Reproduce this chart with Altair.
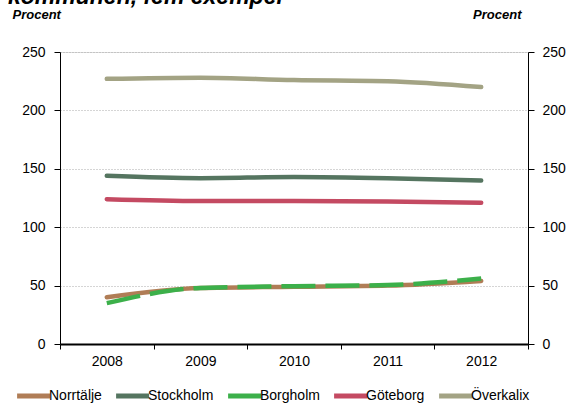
import altair as alt
import pandas as pd

years = ["2008", "2009", "2010", "2011", "2012"]
series_names = ["Norrtälje", "Stockholm", "Borgholm", "Göteborg", "Överkalix"]
norrtalje = [40, 48, 49, 50, 54]
stockholm = [144, 142, 143, 142, 140]
borgholm = [35, 48, 49.5, 50.5, 56]
goteborg = [124, 122.5, 122.5, 122, 121]
overkalix = [227, 228, 226, 225, 220]
colors = ["#B07D56", "#557560", "#3CB04A", "#C44A62", "#A3A384"]
title_text = "kommunen, fem exempel"
y_title = "Procent"

values = dict(zip(series_names, [norrtalje, stockholm, borgholm, goteborg, overkalix]))
rows = []
for s in series_names:
    for i, y in enumerate(years):
        rows.append({"year": y, "serie": s, "value": values[s][i]})
df = pd.DataFrame(rows)

FONT = "Liberation Sans"

x_enc = alt.X(
    "year:O",
    scale=alt.Scale(type="band", paddingInner=0, paddingOuter=0),
    bandPosition=0.5,
    axis=alt.Axis(
        title=None, labelAngle=0, tickBand="extent", domainColor="black",
        domainWidth=2, tickColor="black", tickSize=5, labelPadding=5,
        labelFontSize=14, labelColor="black", labelFont=FONT, grid=False,
    ),
)

yscale = alt.Scale(domain=[0, 250])

color_enc = alt.Color(
    "serie:N",
    scale=alt.Scale(domain=series_names, range=colors),
    sort=series_names,
    legend=alt.Legend(
        title=None, orient="none", direction="horizontal", columns=5,
        gridAlign="none",
        legendX=-52, legendY=325, symbolType="M-0.6,0H1.4", symbolSize=1089,
        symbolStrokeWidth=5, labelOffset=3, columnPadding=4,
        labelFontSize=14, labelFont=FONT, labelColor="black",
    ),
)

left_axis = alt.Axis(
    title=y_title, titleAngle=0, titleAlign="left", titleBaseline="alphabetic",
    titleX=-48, titleY=-34, titleFontSize=13, titleFontStyle="italic",
    titleFontWeight="bold", titleFont=FONT, titleColor="black",
    values=[0, 50, 100, 150, 200, 250], grid=True, gridColor="#AAAAAA",
    gridDash=[1, 2], gridWidth=1, domainColor="black", tickColor="black",
    tickSize=6, labelPadding=9, labelFontSize=14, labelFont=FONT,
    labelColor="black",
)
right_axis = alt.Axis(
    orient="right",
    title=y_title, titleAngle=0, titleAlign="right", titleBaseline="alphabetic",
    titleX=-7, titleY=-34, titleFontSize=13, titleFontStyle="italic",
    titleFontWeight="bold", titleFont=FONT, titleColor="black",
    values=[0, 50, 100, 150, 200, 250], grid=False, domainColor="black",
    tickColor="black", tickSize=6, labelPadding=8, labelFontSize=14,
    labelFont=FONT, labelColor="black",
)

others = df[df.serie != "Borgholm"]
borg = df[df.serie == "Borgholm"]

lines = alt.Chart(others).mark_line(strokeWidth=4.5, interpolate="monotone", strokeCap="round").encode(
    x=x_enc,
    y=alt.Y("value:Q", scale=yscale, axis=left_axis),
    color=color_enc,
    detail="serie:N",
)

borg_line = alt.Chart(borg).mark_line(
    strokeWidth=4.5, interpolate="monotone", strokeDash=[34, 10], strokeCap="butt"
).encode(
    x=x_enc,
    y=alt.Y("value:Q", scale=yscale, axis=right_axis),
    color=color_enc,
)

title_layer = alt.Chart(pd.DataFrame({"t": [title_text]})).mark_text(
    align="left", baseline="alphabetic", fontSize=23, fontStyle="italic",
    fontWeight="bold", font=FONT, color="black"
).encode(
    text="t:N", x=alt.value(-52), y=alt.value(-48)
)

chart = alt.layer(lines, borg_line, title_layer).resolve_axis(y="independent").properties(
    width=468, height=292,
    autosize=alt.AutoSizeParams(type="none"),
    padding={"left": 60, "top": 52, "right": 42, "bottom": 68},
).configure_view(stroke=None).configure(background="white").configure_axis(
    titleFontSize=13
)

chart.save("out.html", embed_options={"renderer": "svg", "actions": False})
